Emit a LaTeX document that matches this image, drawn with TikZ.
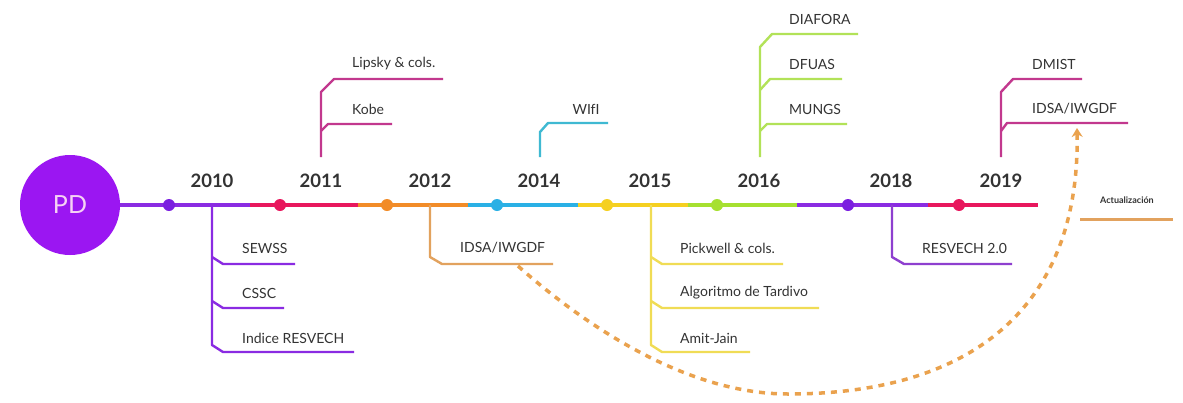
\documentclass[tikz,border=0pt]{standalone}
\usepackage{fontspec}
\setmainfont{Lato}
\usetikzlibrary{arrows.meta}
\definecolor{txt}{HTML}{333333}
\definecolor{pdfill}{HTML}{9B16F2}
\definecolor{pdtext}{HTML}{F6D2F4}
\definecolor{cviolet}{HTML}{8A2BE2}
\definecolor{cvioletdot}{HTML}{7B1FE0}
\definecolor{ccrimson}{HTML}{E8175D}
\definecolor{cmagenta}{HTML}{C2388E}
\definecolor{corange}{HTML}{F28C28}
\definecolor{corangebr}{HTML}{E2A25E}
\definecolor{cblue}{HTML}{2AB0E5}
\definecolor{cbluebr}{HTML}{3FB9D2}
\definecolor{cyellow}{HTML}{F5D020}
\definecolor{cyellowbr}{HTML}{F0DC55}
\definecolor{cgreen}{HTML}{A6E030}
\definecolor{cgreenbr}{HTML}{B2E258}
\definecolor{cpurplebr}{HTML}{8E3FCF}
\definecolor{cdash}{HTML}{EAA24E}
\tikzset{
  seg/.style={line width=4pt},
  br/.style={line width=2.4pt, line join=round},
  dot/.style={circle, inner sep=0pt, minimum size=12pt},
  year/.style={text=txt, font=\fontsize{18.5}{22}\selectfont\bfseries},
  lbl/.style={text=txt, anchor=west, inner sep=0pt, font=\fontsize{14}{16}\selectfont},
}
\begin{document}
\begin{tikzpicture}[x=1pt,y=-1pt]
\useasboundingbox (0,0) rectangle (1183,402);
\fill[white] (0,0) rectangle (1183,402);

% timeline coordinates
\coordinate (s0) at (120,205);
\coordinate (s1) at (250,205);
\coordinate (s2) at (358,205);
\coordinate (s3) at (468,205);
\coordinate (s4) at (578,205);
\coordinate (s5) at (688,205);
\coordinate (s6) at (797,205);
\coordinate (s7) at (928,205);
\coordinate (s8) at (1038,205);

% timeline segments
\draw[seg, cviolet]  (s0) -- (s1);
\draw[seg, ccrimson] (s1) -- (s2);
\draw[seg, corange]  (s2) -- (s3);
\draw[seg, cblue]    (s3) -- (s4);
\draw[seg, cyellow]  (s4) -- (s5);
\draw[seg, cgreen]   (s5) -- (s6);
\draw[seg, cviolet]  (s6) -- (s7);
\draw[seg, ccrimson] (s7) -- (s8);

% start node
\node[circle, fill=pdfill, minimum size=100pt, inner sep=0pt, text=pdtext,
      font=\fontsize{25}{28}\selectfont] (pd) at (70,205) {PD};

% dots
\node[dot, fill=cvioletdot] (d2010) at (169,205) {};
\node[dot, fill=ccrimson]   (d2011) at (280,205) {};
\node[dot, fill=corange]    (d2012) at (387,205) {};
\node[dot, fill=cblue]      (d2014) at (497,205) {};
\node[dot, fill=cyellow]    (d2015) at (607,205) {};
\node[dot, fill=cgreen]     (d2016) at (717,205) {};
\node[dot, fill=cvioletdot] (d2018) at (848,205) {};
\node[dot, fill=ccrimson]   (d2019) at (959,205) {};

% years
\node[year] (y2010) at (212,181) {2010};
\node[year] (y2011) at (321,181) {2011};
\node[year] (y2012) at (430,181) {2012};
\node[year] (y2014) at (539,181) {2014};
\node[year] (y2015) at (650,181) {2015};
\node[year] (y2016) at (759,181) {2016};
\node[year] (y2018) at (891,181) {2018};
\node[year] (y2019) at (1001,181) {2019};

% 2010
\draw[br, cviolet] (212,205) -- (212,345) -- (223,352) -- (354,352);
\draw[br, cviolet] (212,257) -- (223,264) -- (295,264);
\draw[br, cviolet] (212,301) -- (223,308) -- (284,308);
\node[lbl] (sewss) at (242,248) {SEWSS};
\node[lbl] (cssc)  at (242,293) {CSSC};
\node[lbl] (ires)  at (242,338) {Indice RESVECH};

% 2011
\draw[br, cmagenta] (321,157) -- (321,92) -- (334,79) -- (443,79);
\draw[br, cmagenta] (321,131) -- (328,124) -- (392,124);
\node[lbl] (lipsky) at (352,64) {Lipsky \& cols.};
\node[lbl] (kobe)   at (352,109) {Kobe};

% 2012
\draw[br, corangebr] (430,205) -- (430,257) -- (442,264) -- (553,264);
\node[lbl] (idsa1) at (460,248) {IDSA/IWGDF};

% 2014
\draw[br, cbluebr] (540,157) -- (540,132) -- (548,123) -- (608,123);
\node[lbl, anchor=center] (wifi) at (586,109) {WIfI};

% 2015
\draw[br, cyellowbr] (651,205) -- (651,345) -- (662,352) -- (750,352);
\draw[br, cyellowbr] (651,257) -- (662,264) -- (783,264);
\draw[br, cyellowbr] (651,301) -- (662,308) -- (819,308);
\node[lbl] (pick)  at (680,248) {Pickwell \& cols.};
\node[lbl] (tard)  at (680,293) {Algoritmo de Tardivo};
\node[lbl] (amit)  at (680,338) {Amit-Jain};

% 2016
\draw[br, cgreenbr] (760,157) -- (760,47) -- (772,34) -- (858,34);
\draw[br, cgreenbr] (760,90) -- (770,79) -- (842,79);
\draw[br, cgreenbr] (760,131) -- (767,124) -- (847,124);
\node[lbl] (diaf)  at (789,19)  {DIAFORA};
\node[lbl] (dfuas) at (789,64)  {DFUAS};
\node[lbl] (mungs) at (789,109) {MUNGS};

% 2018
\draw[br, cpurplebr] (892,205) -- (892,257) -- (904,264) -- (1012,264);
\node[lbl] (res2) at (922,248) {RESVECH 2.0};

% 2019
\draw[br, cmagenta] (1001,157) -- (1001,92) -- (1013,79) -- (1082,79);
\draw[br, cmagenta] (1001,131) -- (1007,123) -- (1128,123);
\node[lbl] (dmist) at (1032,64)  {DMIST};
\node[lbl] (idsa2) at (1032,109) {IDSA/IWGDF};

% update arrow
\coordinate (upA) at (518,266);
\coordinate (upB) at (788,394);
\coordinate (upC) at (1077,128);
\draw[cdash, line width=3.5pt, dash pattern=on 6pt off 6pt,
      -{Stealth[length=9pt, width=11pt]}]
  (upA) .. controls (590,330) and (690,394) .. (upB)
        .. controls (980,394) and (1080,300) .. (upC);

% legend
\node[text=txt, font=\fontsize{9}{11}\selectfont\bfseries] (leg) at (1127,200) {Actualización};
\coordinate (legA) at (1080,219);
\coordinate (legB) at (1173,219);
\draw[corangebr, line width=3pt] (legA) -- (legB);
\end{tikzpicture}
\end{document}
